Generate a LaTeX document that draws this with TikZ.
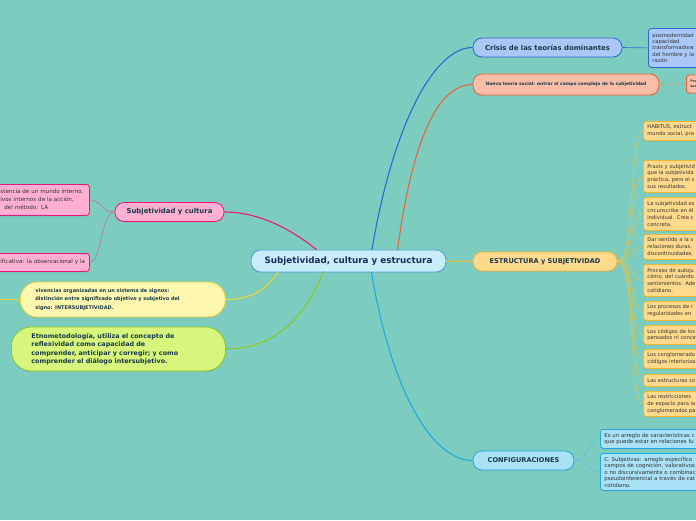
\documentclass[tikz,border=0pt]{standalone}
\usepackage{fontspec}
\setmainfont{DejaVu Sans}
\usetikzlibrary{shadows}

\definecolor{fondo}{HTML}{7CCDC0}
\definecolor{tinta}{HTML}{183A4A}
\definecolor{azulT}{HTML}{1B2D5B}
\definecolor{gris}{HTML}{333333}
\definecolor{centroF}{HTML}{C9ECFB}
\definecolor{centroB}{HTML}{4A9FD8}
\definecolor{azulF}{HTML}{A9C8F7}
\definecolor{azulB}{HTML}{2A6AD6}
\definecolor{salmonF}{HTML}{F9BDA8}
\definecolor{salmonB}{HTML}{E8653A}
\definecolor{pardo}{HTML}{C99A80}
\definecolor{oroF}{HTML}{FFD98C}
\definecolor{oroB}{HTML}{F2B632}
\definecolor{oliva}{HTML}{D2C45A}
\definecolor{cianF}{HTML}{A9E1F7}
\definecolor{cianB}{HTML}{25A7E2}
\definecolor{cianL}{HTML}{5CC0E8}
\definecolor{rosaF}{HTML}{FFAFD2}
\definecolor{rosaB}{HTML}{E8197A}
\definecolor{malva}{HTML}{C0709A}
\definecolor{cremaF}{HTML}{FFF6B0}
\definecolor{cremaB}{HTML}{E8D530}
\definecolor{limaF}{HTML}{D8F57C}
\definecolor{limaB}{HTML}{8CC824}

\begin{document}
\begin{tikzpicture}[x=1pt,y=-1pt,
  caja/.style={draw,line width=0.8pt,rounded corners=#1,
    drop shadow={opacity=0.18,shadow xshift=0pt,shadow yshift=-1.2pt}},
  caja/.default=3pt,
  tema/.style={caja=9pt,font=\fontsize{6.9}{8}\selectfont\bfseries,text=tinta,inner sep=0pt},
  nota/.style={caja,font=\fontsize{5.2}{6.8}\selectfont,text=gris,align=left,inner xsep=4pt,inner ysep=0pt},
  hoja/.style={nota,fill=oroF,draw=oroB,anchor=north west,text width=80pt},
  enlace/.style={line width=1.1pt},
  hilo/.style={line width=0.6pt}]
\useasboundingbox (0,0) rectangle (696,520);
\clip (0,0) rectangle (696,520);
\fill[fondo] (0,0) rectangle (696,520);

\node[tema,fill=centroF,draw=centroB,minimum width=195pt,minimum height=22pt,rounded corners=10pt,
  font=\fontsize{8.8}{10}\selectfont\bfseries,text=azulT] (centro) at (348.5,261) {Subjetividad, cultura y estructura};

\node[tema,fill=azulF,draw=azulB,minimum width=149pt,minimum height=19pt] (crisis) at (547.5,47.5) {Crisis de las teorías dominantes};
\node[tema,fill=salmonF,draw=salmonB,minimum width=186pt,minimum height=21pt,
  font=\fontsize{4.4}{5}\selectfont\bfseries] (nueva) at (566,84.5) {Nueva teoría social: entrar al campo complejo de la subjetividad};
\node[tema,fill=oroF,draw=oroB,minimum width=144pt,minimum height=19pt,
  font=\fontsize{6.6}{8}\selectfont\bfseries] (estr) at (545,261.5) {ESTRUCTURA y SUBJETIVIDAD};
\node[tema,fill=cianF,draw=cianB,minimum width=101pt,minimum height=19pt,
  font=\fontsize{6.6}{8}\selectfont\bfseries] (config) at (523.5,460.5) {CONFIGURACIONES};
\node[tema,fill=rosaF,draw=rosaB,minimum width=109pt,minimum height=19pt] (subj) at (169.5,212) {Subjetividad y cultura};

\node[caja=17pt,fill=cremaF,draw=cremaB,anchor=west,text width=175pt,inner xsep=15pt,inner ysep=0pt,
  minimum height=35pt,align=left,font=\fontsize{5}{8.6}\selectfont\bfseries,text=tinta] (viv) at (20,299.5)
  {vivencias organizadas en un sistema de signos:\\distinción entre significado objetivo y subjetivo del\\signo: INTERSUBJETIVIDAD.};
\node[caja=20pt,fill=limaF,draw=limaB,anchor=west,text width=174pt,inner xsep=20pt,inner ysep=0pt,
  minimum height=44pt,align=left,font=\fontsize{6.4}{8.5}\selectfont\bfseries,text=tinta] (etno) at (11,349)
  {Etnometodología, utiliza el concepto de\\reflexividad como capacidad de\\comprender, anticipar y corregir; y como\\comprender el diálogo intersubjetivo.};

\node[nota,fill=azulF,draw=azulB,anchor=north west,text width=80pt,minimum height=39pt,
  font=\fontsize{5.3}{6.4}\selectfont] (posmo) at (648,28)
  {posmodernidad\\capacidad\\transformadora\\del hombre y la\\razón};
\node[nota,fill=salmonF,draw=salmonB,anchor=west,text width=30pt,minimum height=18pt,
  font=\fontsize{3.4}{5}\selectfont\bfseries] (pro) at (686,84) {Pro\\soc};

\node[hoja,minimum height=19pt] (h1) at (643,121) {HABITUS, estruct\\mundo social, pra};
\node[hoja,minimum height=32pt] (h2) at (643,160) {Praxis y subjetivid\\que la subjetivida\\práctica, pero el s\\sus resultados.};
\node[hoja,minimum height=33pt] (h3) at (643,197) {La subjetividad es\\circunscribe en él\\individual. Crea c\\concreta.};
\node[hoja,minimum height=25pt] (h4) at (643,234) {Dar sentido a la s\\relaciones duras,\\discontinuidades,};
\node[hoja,minimum height=32pt] (h5) at (643,264) {Proceso de autoju\\cómo, del cuándo\\sentimientos. Ade\\cotidiano.};
\node[hoja,minimum height=19pt] (h6) at (643,301) {Los procesos de r\\regularidades en};
\node[hoja,minimum height=19pt] (h7) at (643,325) {Los códigos de los\\pensados ni conce};
\node[hoja,minimum height=19pt] (h8) at (643,349) {Los conglomerado\\códigos interioriza};
\node[hoja,minimum height=12pt] (h9) at (643,374) {Las estructuras co};
\node[hoja,minimum height=25pt] (h10) at (643,391) {Las restricciones\\de espacio para la\\conglomerados pa};

\node[nota,fill=cianF,draw=cianB,anchor=north west,text width=100pt,minimum height=19pt,
  font=\fontsize{5.4}{6.7}\selectfont] (c1) at (600,429)
  {Es un arreglo de características c\\que puede estar en relaciones fu};
\node[nota,fill=cianF,draw=cianB,anchor=north west,text width=100pt,minimum height=37pt,
  font=\fontsize{5.4}{6.5}\selectfont] (c2) at (600,453)
  {C. Subjetivas: arreglo específico\\campos de cognición, valorativos\\o no discursivamente o combinac\\pseudoinferencial a través de cat\\cotidiano.};

\node[nota,fill=rosaF,draw=rosaB,anchor=north west,text width=85pt,minimum height=31pt,
  font=\fontsize{5.6}{8}\selectfont] (p1) at (-4,184)
  {stencia de un mundo interno,\\ivos internos de la acción,\\\hspace*{4pt}del método: LA};
\node[nota,fill=rosaF,draw=rosaB,anchor=north west,text width=85pt,minimum height=18pt,
  font=\fontsize{5.6}{8}\selectfont] (p2) at (-4,253) {ificativa: la observacional y la};

\coordinate (vivfuera) at (-10,299.5);

\draw[enlace,azulB] ([xshift=23.5pt]centro.north) .. controls +(20,-120) and +(-40,0) .. (crisis.west);
\draw[enlace,salmonB] ([xshift=49pt]centro.north) .. controls +(15,-110) and +(-35,0) .. (nueva.west);
\draw[enlace,oroB] (centro.east) -- (estr.west);
\draw[enlace,cianB] ([xshift=23pt]centro.south) .. controls +(20,120) and +(-40,0) .. (config.west);
\draw[enlace,rosaB] ([xshift=-32pt]centro.north) .. controls +(-25,-20) and +(35,0) .. (subj.east);
\draw[enlace,cremaB] ([xshift=-70pt]centro.south) .. controls +(-12,14) and +(30,0) .. (viv.east);
\draw[enlace,limaB] ([xshift=-25.5pt]centro.south) .. controls +(-20,50) and +(45,0) .. (etno.east);
\draw[enlace,cremaB] (viv.west) -- (vivfuera);

\draw[hilo,azulB] (crisis.east) -- (posmo.west);
\draw[hilo,pardo] (nueva.east) -- (pro.west);

\draw[hilo,oliva] (estr.east) .. controls +(18,0) and +(-14,0) .. (h1.west);
\draw[hilo,oliva] (estr.east) .. controls +(18,0) and +(-14,0) .. (h2.west);
\draw[hilo,oliva] (estr.east) .. controls +(18,0) and +(-14,0) .. (h3.west);
\draw[hilo,oliva] (estr.east) .. controls +(18,0) and +(-14,0) .. (h4.west);
\draw[hilo,oliva] (estr.east) .. controls +(18,0) and +(-14,0) .. (h5.west);
\draw[hilo,oliva] (estr.east) .. controls +(18,0) and +(-14,0) .. (h6.west);
\draw[hilo,oliva] (estr.east) .. controls +(18,0) and +(-14,0) .. (h7.west);
\draw[hilo,oliva] (estr.east) .. controls +(18,0) and +(-14,0) .. (h8.west);
\draw[hilo,oliva] (estr.east) .. controls +(18,0) and +(-14,0) .. (h9.west);
\draw[hilo,oliva] (estr.east) .. controls +(18,0) and +(-14,0) .. (h10.west);

\draw[hilo,cianL] (config.east) .. controls +(15,0) and +(-12,0) .. (c1.west);
\draw[hilo,cianL] (config.east) .. controls +(15,0) and +(-12,0) .. (c2.west);

\draw[hilo,malva] (subj.west) .. controls +(-14,0) and +(12,0) .. (p1.east);
\draw[hilo,malva] (subj.west) .. controls +(-14,0) and +(12,0) .. (p2.east);
\end{tikzpicture}
\end{document}
